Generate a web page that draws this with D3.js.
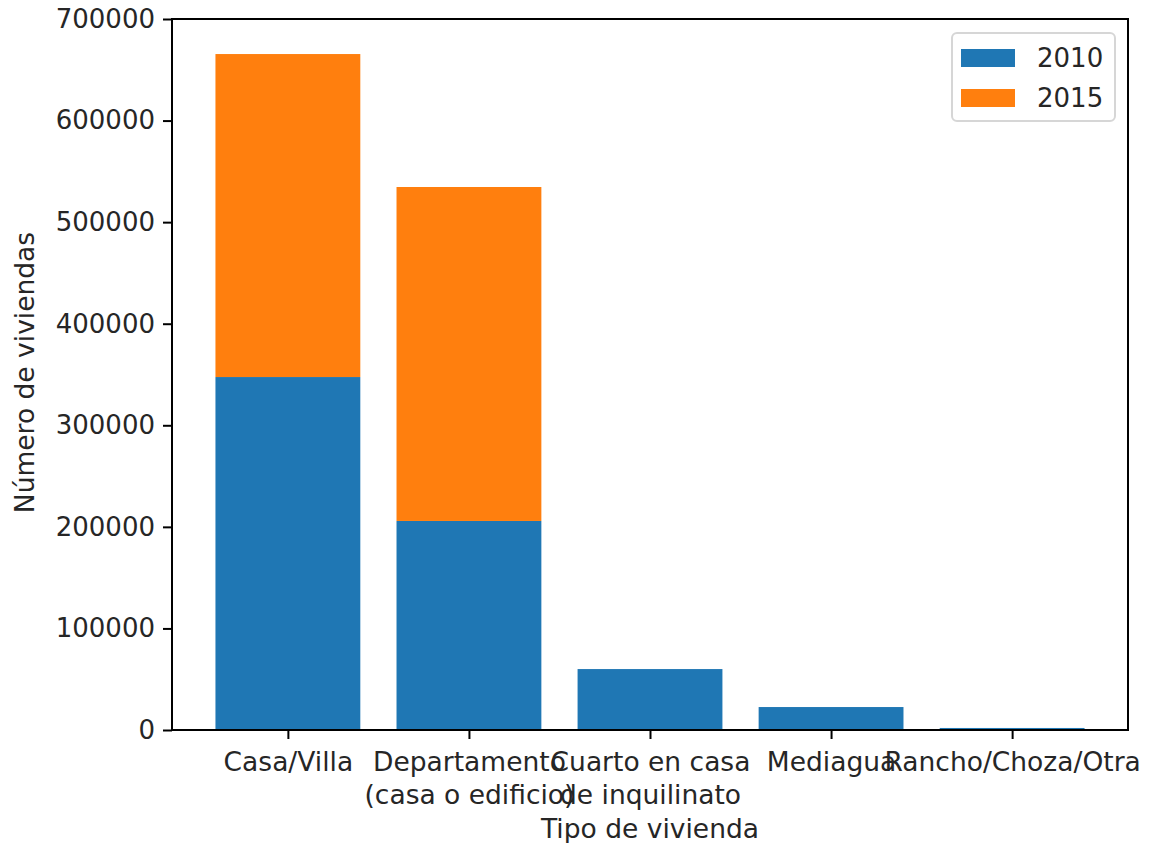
<!DOCTYPE html>
<html>
<head>
<meta charset="utf-8">
<script src="https://cdn.jsdelivr.net/npm/d3@7"></script>
<style>
  body { margin: 0; background: #fff; }
  text { font-family: "DejaVu Sans", sans-serif; fill: #262626; }
</style>
</head>
<body>
<div id="chart"></div>
<script>
// data
var categories = ["Casa/Villa", "Departamento\n(casa o edificio)", "Cuarto en casa\nde inquilinato", "Mediagua", "Rancho/Choza/Otra"];
var values2010 = [347500, 205800, 60000, 22600, 2000];
var values2015 = [318000, 328800, 0, 0, 0];
var seriesNames = ["2010", "2015"];
var yTicks = [0, 100000, 200000, 300000, 400000, 500000, 600000, 700000];

var svgWidth = 1150;
var svgHeight = 843;
var margin = { top: 19, bottom: 113, left: 172, right: 22 };
var width = svgWidth - margin.left - margin.right;
var height = svgHeight - margin.top - margin.bottom;

var colors = ["#1f77b4", "#ff7f0e"];
var fontSize = 26.5;

var svg = d3.select("#chart")
    .append("svg")
    .attr("width", svgWidth)
    .attr("height", svgHeight);

var chartGroup = svg.append("g")
    .attr("transform", `translate(${margin.left}, ${margin.top})`);

// x: index positions like matplotlib bar (width 0.8, 5% margins)
var xScale = d3.scaleLinear()
    .domain([-0.64, categories.length - 1 + 0.64])
    .range([0, width]);
var barW = xScale(0.8) - xScale(0);

var yScale = d3.scaleLinear()
    .domain([0, 700000])
    .range([height, 0]);

var rows = categories.map((c, i) => ({ i: i, v2010: values2010[i], v2015: values2015[i] }));
var stack = d3.stack().keys(["v2010", "v2015"])(rows);

chartGroup.selectAll(".series")
    .data(stack)
    .enter()
    .append("g")
    .attr("fill", (d, k) => colors[k])
    .selectAll("rect")
    .data(d => d)
    .enter()
    .append("rect")
    .attr("x", d => xScale(d.data.i) - barW / 2)
    .attr("width", barW)
    .attr("y", d => yScale(d[1]))
    .attr("height", d => yScale(d[0]) - yScale(d[1]));

// axes
var leftAxis = d3.axisLeft(yScale).tickValues(yTicks).tickFormat(d3.format("d")).tickSizeOuter(0).tickSize(9).tickPadding(8);
var bottomAxis = d3.axisBottom(xScale).tickValues(d3.range(categories.length)).tickFormat("").tickSizeOuter(0).tickSize(9);

var yAxis = chartGroup.append("g").call(leftAxis);
var xAxis = chartGroup.append("g")
    .attr("transform", `translate(0, ${height})`)
    .call(bottomAxis);

[yAxis, xAxis].forEach(a => {
    a.select(".domain").remove();
    a.selectAll("line").attr("stroke", "#000").attr("stroke-width", 2);
    a.selectAll("text").attr("font-size", 26).attr("fill", "#262626").attr("font-family", "DejaVu Sans");
});

// multi-line category labels
xAxis.selectAll(".tick").each(function(d) {
    var lines = categories[d].split("\n");
    var t = d3.select(this).append("text")
        .attr("text-anchor", "middle")
        .attr("font-size", fontSize)
        .attr("fill", "#262626")
        .attr("y", 41);
    lines.forEach((l, j) => {
        t.append("tspan").attr("x", 0).attr("dy", j === 0 ? 0 : 33).text(l);
    });
});

// frame
chartGroup.append("rect")
    .attr("width", width)
    .attr("height", height)
    .attr("fill", "none")
    .attr("stroke", "#000")
    .attr("stroke-width", 2);

// axis labels
chartGroup.append("text")
    .attr("transform", "rotate(-90)")
    .attr("x", -height / 2 + 2)
    .attr("y", -margin.left + 34)
    .attr("text-anchor", "middle")
    .attr("font-size", fontSize)
    .text("Número de viviendas");

chartGroup.append("text")
    .attr("x", width / 2)
    .attr("y", height + 108)
    .attr("text-anchor", "middle")
    .attr("font-size", fontSize)
    .text("Tipo de vivienda");

// legend
var legend = chartGroup.append("g")
    .attr("transform", `translate(${width - 176}, 14)`);

legend.append("rect")
    .attr("width", 163)
    .attr("height", 88)
    .attr("rx", 5)
    .attr("fill", "#fff")
    .attr("fill-opacity", 0.8)
    .attr("stroke", "#d6d6d6")
    .attr("stroke-width", 2);

seriesNames.forEach((name, k) => {
    legend.append("rect")
        .attr("x", 9)
        .attr("y", 16 + k * 40)
        .attr("width", 54)
        .attr("height", 18)
        .attr("fill", colors[k]);
    legend.append("text")
        .attr("x", 85)
        .attr("y", 34 + k * 40)
        .attr("font-size", 26)
        .text(name);
});
</script>
</body>
</html>
